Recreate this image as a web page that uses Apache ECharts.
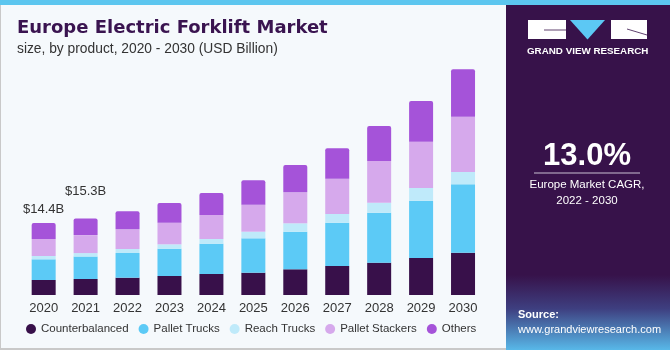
<!DOCTYPE html>
<html>
<head>
<meta charset="utf-8">
<script src="https://cdn.jsdelivr.net/npm/echarts@6/dist/echarts.min.js"></script>
<style>
  html, body { margin: 0; padding: 0; }
  #chart { width: 670px; height: 350px; }
</style>
</head>
<body>
<div id="chart"></div>
<script>
// data, USD Billion
const years = ['2020', '2021', '2022', '2023', '2024', '2025', '2026', '2027', '2028', '2029', '2030']
const counterbalanced = [3.0, 3.2, 3.46, 3.8, 4.2, 4.46, 5.14, 5.8, 6.46, 7.4, 8.46]
const palletTrucks = [4.14, 4.5, 4.94, 5.46, 6.06, 6.88, 7.52, 8.66, 10.0, 11.46, 13.68]
const reachTrucks = [0.66, 0.68, 0.8, 0.88, 0.94, 1.32, 1.68, 1.74, 2.0, 2.54, 2.46]
const palletStackers = [3.4, 3.6, 3.94, 4.32, 4.8, 5.4, 6.2, 7.06, 8.34, 9.26, 11.06]
const others = [3.2, 3.32, 3.6, 3.94, 4.4, 4.88, 5.46, 6.08, 7.0, 8.14, 9.48]
const totalLabels = ['$14.4B', '$15.3B']

const colors = ['#38104a', '#5ccaf6', '#bfeafa', '#d6a9ec', '#a553d9']
const font = 'Liberation Sans'

const chart = echarts.init(document.getElementById('chart'))

const mkSeries = (name, data, i) => ({
  name: name,
  type: 'bar',
  stack: 'total',
  barWidth: 24,
  itemStyle: { color: colors[i] },
  data: data
})

// only the first two years carry a total label
const othersData = others.map((v, i) => {
  if (i >= totalLabels.length) return v
  return {
    value: v,
    label: {
      show: true,
      position: 'top',
      distance: i === 0 ? 7 : 21,
      formatter: totalLabels[i],
      color: '#333',
      fontSize: 13,
      fontFamily: font
    }
  }
})

const option = {
  backgroundColor: '#f5f9fc',
  animation: false,
  grid: { left: 22.7, right: 186, top: 45, bottom: 55 },
  xAxis: {
    type: 'category',
    data: years,
    axisLine: { show: false },
    axisTick: { show: false },
    axisLabel: { color: '#333', fontSize: 13, fontFamily: font, margin: 7 }
  },
  yAxis: {
    type: 'value',
    min: 0,
    max: 50,
    show: false,
    splitLine: { show: false }
  },
  legend: {
    left: 26,
    top: 323,
    padding: 0,
    icon: 'circle',
    itemWidth: 10,
    itemHeight: 10,
    itemGap: 10,
    textStyle: { color: '#333', fontSize: 11.5, fontFamily: font },
    data: ['Counterbalanced', 'Pallet Trucks', 'Reach Trucks', 'Pallet Stackers', 'Others']
  },
  series: [
    mkSeries('Counterbalanced', counterbalanced, 0),
    mkSeries('Pallet Trucks', palletTrucks, 1),
    mkSeries('Reach Trucks', reachTrucks, 2),
    mkSeries('Pallet Stackers', palletStackers, 3),
    Object.assign(mkSeries('Others', othersData, 4), {
      itemStyle: { color: colors[4], borderRadius: [2, 2, 0, 0] }
    })
  ],
  graphic: [
    // left panel border
    { type: 'rect', shape: { x: 0, y: 0, width: 1, height: 350 }, style: { fill: '#c9c9c9' } },
    { type: 'rect', shape: { x: 0, y: 348, width: 506, height: 2 }, style: { fill: '#c9c9c9' } },
    // right panel
    { type: 'rect', shape: { x: 506, y: 0, width: 164, height: 350 }, style: { fill: '#37124a' } },
    {
      type: 'rect',
      shape: { x: 506, y: 275, width: 164, height: 75 },
      style: {
        fill: new echarts.graphic.LinearGradient(0, 0, 0, 1, [
          { offset: 0, color: '#37124a' },
          { offset: 0.45, color: '#3e3f80' },
          { offset: 1, color: '#58b8e8' }
        ])
      }
    },
    // top strip
    { type: 'rect', shape: { x: 0, y: 0, width: 670, height: 5 }, style: { fill: '#5cc6ef' } },
    // logo
    { type: 'rect', shape: { x: 528, y: 20, width: 38, height: 19 }, style: { fill: '#ffffff' } },
    { type: 'polygon', shape: { points: [[570, 20], [605, 20], [587.5, 39.5]] }, style: { fill: '#5cc8f4' } },
    { type: 'rect', shape: { x: 611, y: 20, width: 36, height: 19 }, style: { fill: '#ffffff' } },
    { type: 'line', shape: { x1: 544, y1: 30, x2: 566, y2: 30 }, style: { stroke: '#37124a', lineWidth: 0.8 } },
    { type: 'line', shape: { x1: 627, y1: 29, x2: 647, y2: 35 }, style: { stroke: '#37124a', lineWidth: 0.8 } },
    {
      type: 'text', x: 527, y: 51,
      style: { text: 'GRAND VIEW RESEARCH', fill: '#ffffff', font: 'bold 9.8px "Liberation Sans"', verticalAlign: 'middle' }
    },
    // CAGR block
    {
      type: 'text', x: 587, y: 156,
      style: { text: '13.0%', fill: '#ffffff', font: 'bold 31px "Liberation Sans"', align: 'center', verticalAlign: 'middle' }
    },
    { type: 'rect', shape: { x: 534, y: 172.5, width: 106, height: 1 }, style: { fill: '#c9bfd1' } },
    {
      type: 'text', x: 587, y: 185,
      style: { text: 'Europe Market CAGR,', fill: '#ffffff', font: '11.5px "Liberation Sans"', align: 'center', verticalAlign: 'middle' }
    },
    {
      type: 'text', x: 587, y: 201,
      style: { text: '2022 - 2030', fill: '#ffffff', font: '11.5px "Liberation Sans"', align: 'center', verticalAlign: 'middle' }
    },
    // source
    {
      type: 'text', x: 518, y: 315,
      style: { text: 'Source:', fill: '#ffffff', font: 'bold 11px "Liberation Sans"', verticalAlign: 'middle' }
    },
    {
      type: 'text', x: 518, y: 330,
      style: { text: 'www.grandviewresearch.com', fill: '#ffffff', font: '11px "Liberation Sans"', verticalAlign: 'middle' }
    },
    // titles
    {
      type: 'text', x: 17, y: 28,
      style: { text: 'Europe Electric Forklift Market', fill: '#3a1450', font: 'bold 18px "DejaVu Sans"', verticalAlign: 'middle' }
    },
    {
      type: 'text', x: 17, y: 49,
      style: { text: 'size, by product, 2020 - 2030 (USD Billion)', fill: '#333333', font: '13.8px "Liberation Sans"', verticalAlign: 'middle' }
    }
  ]
}

chart.setOption(option)
</script>
</body>
</html>
